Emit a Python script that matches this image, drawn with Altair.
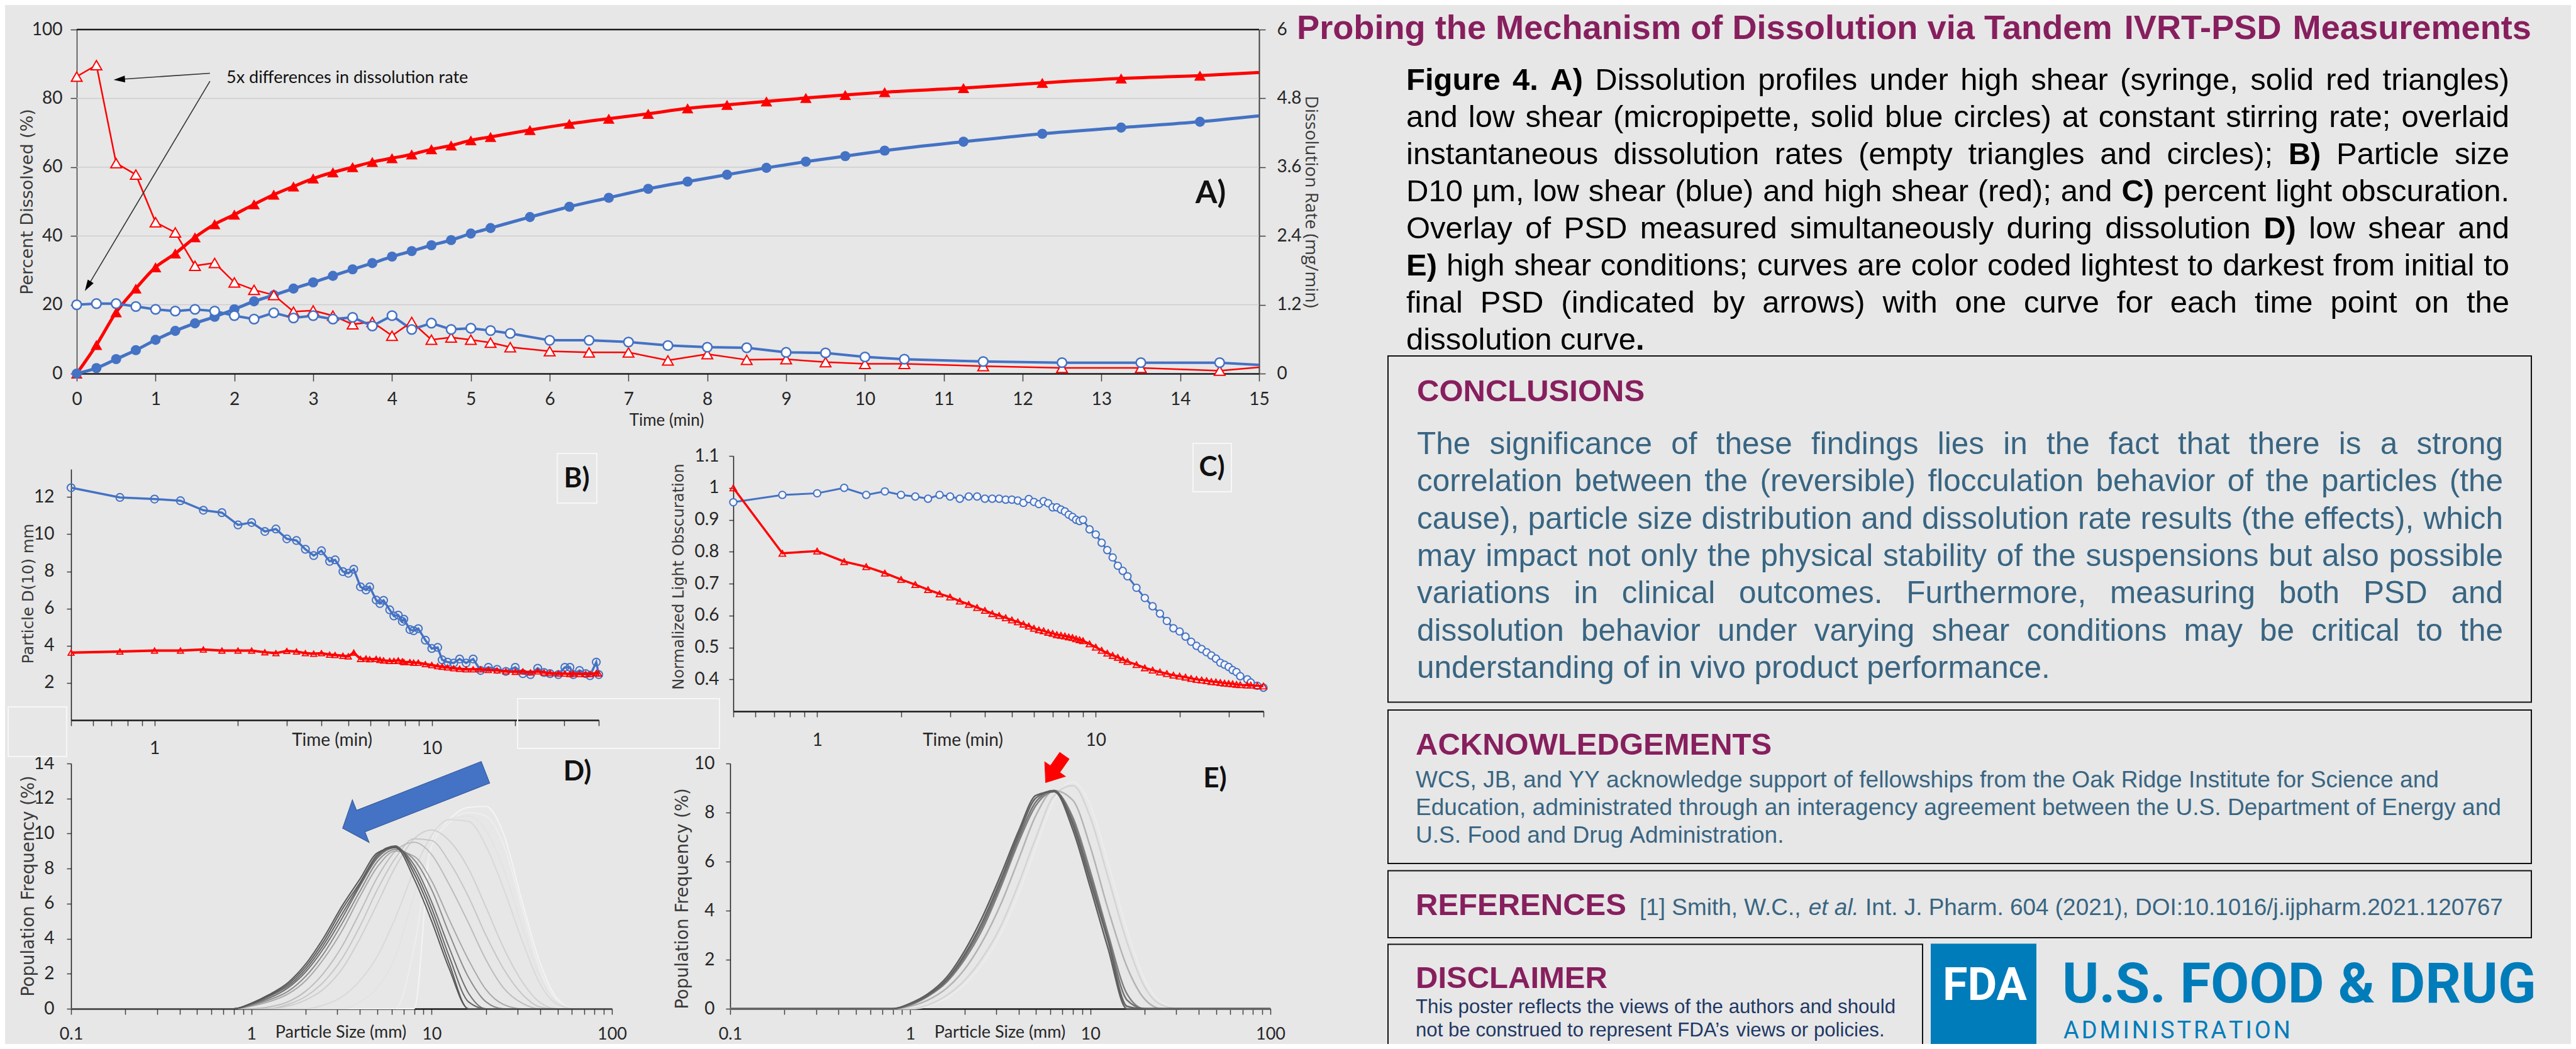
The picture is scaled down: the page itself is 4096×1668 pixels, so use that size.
import altair as alt
import pandas as pd

W, H = 4080, 1652


def P(v):
    return v - 8


# ------------------------------------------------------------------ data
# Panel A: cumulative % dissolved (filled markers) and dissolution rate (hollow)
t_cum = [0, 0.25, 0.5, 0.75, 1, 1.25, 1.5, 1.75, 2, 2.25, 2.5, 2.75, 3, 3.25, 3.5, 3.75,
         4, 4.25, 4.5, 4.75, 5, 5.25, 5.75, 6.25, 6.75, 7.25, 7.75, 8.25, 8.75, 9.25,
         9.75, 10.25, 11.25, 12.25, 13.25, 14.25, 15]
pct_high = [0, 8.3, 17.8, 24.7, 30.9, 34.9, 39.6, 43.4, 46.2, 49.2, 52.0, 54.4, 56.7, 58.5,
            60.0, 61.5, 62.6, 63.7, 65.2, 66.3, 67.8, 68.8, 70.8, 72.6, 74.1, 75.5, 77.1,
            78.1, 79.1, 80.1, 81.0, 81.8, 83.0, 84.5, 85.8, 86.6, 87.5]
pct_low = [0, 1.6, 4.2, 6.8, 9.8, 12.4, 14.6, 16.5, 18.7, 21.0, 22.8, 24.7, 26.5, 28.4,
           30.3, 32.1, 34.0, 35.6, 37.3, 38.8, 40.7, 42.3, 45.5, 48.5, 51.1, 53.7, 55.8,
           57.8, 59.8, 61.6, 63.2, 64.8, 67.4, 69.7, 71.5, 73.2, 74.9]
t_rate = [0, 0.25, 0.5, 0.75, 1, 1.25, 1.5, 1.75, 2, 2.25, 2.5, 2.75, 3, 3.25, 3.5, 3.75,
          4, 4.25, 4.5, 4.75, 5, 5.25, 5.5, 6, 6.5, 7, 7.5, 8, 8.5, 9, 9.5, 10, 10.5,
          11.5, 12.5, 13.5, 14.5, 15]
rate_high = [5.18, 5.38, 3.67, 3.47, 2.64, 2.46, 1.88, 1.93, 1.59, 1.46, 1.37, 1.08, 1.10,
             1.01, 0.86, 0.90, 0.66, 0.90, 0.59, 0.63, 0.59, 0.54, 0.46, 0.39, 0.37, 0.37,
             0.23, 0.34, 0.24, 0.25, 0.20, 0.17, 0.17, 0.13, 0.10, 0.10, 0.05, 0.11]
rate_low = [1.20, 1.22, 1.22, 1.17, 1.12, 1.09, 1.12, 1.09, 1.01, 0.95, 1.06, 0.97, 1.01,
            0.95, 0.98, 0.83, 1.01, 0.77, 0.88, 0.77, 0.79, 0.75, 0.70, 0.58, 0.58, 0.55,
            0.49, 0.46, 0.45, 0.37, 0.36, 0.29, 0.25, 0.21, 0.19, 0.19, 0.19, 0.15]
grid_pct = [20, 40, 60, 80]
ticks_A_x = list(range(0, 16))
ticks_A_y = [0, 20, 40, 60, 80, 100]
ticks_A_r = [0, 1.2, 2.4, 3.6, 4.8, 6]
# annotation "5x differences" (time, % dissolved)
ann_start_t = [1.69, 1.69]
ann_start_y = [87.3, 85.0]
ann_tip_t = [0.54, 0.14]
ann_tip_y = [85.5, 25.4]
ann_angle = [266, 211]

# Panel B: particle D(10)
t_b = [0.5, 0.75, 1.0, 1.24, 1.5, 1.75, 2.0, 2.24, 2.5, 2.74, 3.0, 3.25, 3.5, 3.75, 4.0,
       4.28, 4.48, 4.78, 5.0, 5.23, 5.53, 5.79, 5.97, 6.3, 6.5, 6.7, 7.05, 7.3, 7.57, 7.83,
       7.93, 8.34, 8.6, 8.94, 9.48, 10.0, 10.5, 10.9, 11.4, 12.0, 12.6, 13.3, 14.1, 15.0,
       16.0, 17.2, 18.5, 20.0, 21.3, 22.7, 24.1, 25.4, 26.7, 28.6, 30.2, 31.5, 32.4, 34.1,
       35.9, 37.2, 39.2, 40.0]
d10_low = [12.5, 11.98, 11.89, 11.8, 11.29, 11.16, 10.5, 10.63, 10.15, 10.28, 9.75, 9.66,
           9.19, 8.85, 9.11, 8.54, 8.62, 7.99, 7.9, 8.12, 7.17, 7.0, 7.17, 6.46, 6.27, 6.44,
           5.93, 5.6, 5.65, 5.31, 5.43, 4.87, 4.81, 4.92, 4.3, 3.85, 3.91, 3.24, 3.12, 3.07,
           3.29, 3.07, 3.29, 2.67, 2.84, 2.73, 2.62, 2.84, 2.5, 2.45, 2.79, 2.56, 2.5, 2.45,
           2.84, 2.84, 2.45, 2.67, 2.5, 2.39, 3.12, 2.45]
d10_high = [3.63, 3.69, 3.74, 3.74, 3.8, 3.74, 3.74, 3.74, 3.65, 3.6, 3.72, 3.69, 3.6, 3.57,
            3.6, 3.52, 3.5, 3.46, 3.43, 3.63, 3.29, 3.31, 3.27, 3.29, 3.24, 3.21, 3.18, 3.18,
            3.21, 3.16, 3.12, 3.12, 3.09, 3.09, 3.01, 2.96, 2.9, 2.87, 2.83, 2.79, 2.76, 2.73,
            2.73, 2.73, 2.7, 2.67, 2.62, 2.6, 2.62, 2.56, 2.62, 2.56, 2.53, 2.5, 2.5, 2.48,
            2.5, 2.48, 2.48, 2.48, 2.53, 2.5]
ticks_B_y = [2, 4, 6, 8, 10, 12]
ticks_time = [0.5, 0.6, 0.7, 0.8, 0.9, 1, 2, 3, 4, 5, 6, 7, 8, 9, 10, 20, 30, 40]

# Panel C: normalized light obscuration
t_c = [0.5, 0.75, 1.0, 1.25, 1.5, 1.75, 2.0, 2.25, 2.5, 2.75, 3.0, 3.25, 3.5, 3.75, 4.0,
       4.25, 4.5, 4.75, 5.0, 5.25, 5.5, 5.75, 6.0, 6.25, 6.5, 6.75, 7.0, 7.25, 7.5, 7.75,
       8.0, 8.25, 8.5, 8.75, 9.0, 9.5, 10, 10.5, 11, 11.5, 12, 12.5, 13, 14, 15, 16, 17,
       18, 19, 20, 21, 22, 23, 24, 25, 26, 27, 28, 29, 30, 31, 32, 33, 35, 36, 38, 40]
obs_low = [0.955, 0.978, 0.983, 1.0, 0.978, 0.989, 0.978, 0.973, 0.966, 0.978, 0.973, 0.966,
           0.973, 0.973, 0.966, 0.966, 0.966, 0.963, 0.963, 0.96, 0.953, 0.965, 0.956, 0.949,
           0.958, 0.952, 0.939, 0.939, 0.932, 0.926, 0.916, 0.909, 0.9, 0.896, 0.9,
           0.87, 0.854, 0.828, 0.805, 0.782, 0.756, 0.74, 0.723,
           0.687, 0.655, 0.629, 0.606, 0.583, 0.56, 0.55, 0.534, 0.518, 0.505, 0.495, 0.485,
           0.475, 0.465, 0.452, 0.446, 0.439, 0.429, 0.423, 0.41,
           0.4, 0.39, 0.38, 0.374]
obs_high = [1.0, 0.795, 0.802, 0.769, 0.753, 0.733, 0.713, 0.697, 0.681, 0.668, 0.658, 0.645,
            0.635, 0.625, 0.616, 0.606, 0.6, 0.593, 0.586, 0.58, 0.573, 0.567, 0.56, 0.555,
            0.552, 0.547, 0.544, 0.54, 0.538, 0.536, 0.533, 0.531, 0.527, 0.524, 0.521,
            0.511, 0.501, 0.491, 0.482, 0.475, 0.469, 0.462, 0.456,
            0.446, 0.436, 0.429, 0.423, 0.418, 0.413, 0.41, 0.407, 0.403, 0.4, 0.398, 0.396,
            0.393, 0.392, 0.39, 0.388, 0.387, 0.386, 0.384, 0.383,
            0.382, 0.382, 0.38, 0.379]
ticks_C_y = [0.4, 0.5, 0.6, 0.7, 0.8, 0.9, 1, 1.1]

# Panels D / E: PSD overlays, initial (lightest) -> final (darkest)
psd_bins = [0.1, 0.8, 1.0, 1.25, 1.6, 2.0, 2.5, 3.2, 4.0, 5.0, 6.3, 8.0, 10, 12.5, 16, 20,
            25, 32, 40, 50, 63, 80, 100]
psd_low_names = ["L01", "L02", "L03", "L04", "L05", "L06", "L07", "L08", "L09", "L10",
                 "L11", "L12", "L13"]
psd_low_vals = [
    [0, 0, 0, 0, 0, 0, 0, 0, 0, 0, 0, 0, 9.6, 10.8, 11.5, 11.55, 10.0, 6.0, 2.6, 0.55, 0, 0, 0],
    [0, 0, 0, 0, 0, 0, 0, 0, 0, 0, 0, 3.5, 9.3, 10.6, 11.2, 11.0, 9.4, 5.6, 2.2, 0.45, 0, 0, 0],
    [0, 0, 0, 0, 0, 0, 0, 0, 0.4, 1.2, 3.0, 6.5, 9.5, 10.8, 11.0, 10.2, 8.0, 4.6, 1.8, 0.35, 0, 0, 0],
    [0, 0, 0, 0, 0, 0, 0.2, 0.7, 1.6, 3.0, 5.2, 7.9, 9.9, 10.8, 10.7, 9.3, 6.9, 3.8, 1.4, 0.25, 0, 0, 0],
    [0, 0, 0, 0, 0.15, 0.5, 1.1, 2.3, 4.0, 6.0, 8.1, 9.7, 10.2, 9.6, 8.0, 5.8, 3.5, 1.5, 0.35, 0, 0, 0, 0],
    [0, 0, 0, 0, 0.25, 0.7, 1.5, 2.9, 4.7, 6.8, 8.6, 9.7, 9.6, 8.4, 6.4, 4.2, 2.3, 0.8, 0.1, 0, 0, 0, 0],
    [0, 0, 0, 0.1, 0.4, 1.0, 2.0, 3.6, 5.5, 7.5, 9.0, 9.5, 8.8, 7.1, 4.9, 2.8, 1.2, 0.3, 0, 0, 0, 0, 0],
    [0, 0, 0.15, 0.4, 0.85, 1.6, 2.8, 4.5, 6.4, 8.1, 9.0, 8.7, 7.3, 5.1, 2.8, 1.1, 0.25, 0, 0, 0, 0, 0, 0],
    [0, 0, 0.2, 0.5, 1.0, 1.85, 3.1, 4.9, 6.7, 8.4, 9.1, 8.5, 6.8, 4.3, 1.8, 0.4, 0, 0, 0, 0, 0, 0, 0],
    [0, 0, 0.25, 0.6, 1.2, 2.1, 3.4, 5.2, 7.0, 8.6, 9.2, 8.2, 6.1, 3.5, 0.9, 0, 0, 0, 0, 0, 0, 0, 0],
    [0, 0, 0.28, 0.7, 1.3, 2.25, 3.6, 5.45, 7.1, 8.7, 9.25, 7.95, 5.75, 3.0, 0.4, 0, 0, 0, 0, 0, 0, 0, 0],
    [0, 0, 0.3, 0.75, 1.4, 2.4, 3.8, 5.7, 7.2, 8.8, 9.3, 7.7, 5.4, 2.6, 0, 0, 0, 0, 0, 0, 0, 0, 0],
    [0, 0, 0.32, 0.8, 1.5, 2.55, 4.0, 5.9, 7.4, 8.9, 9.2, 7.4, 5.0, 2.3, 0, 0, 0, 0, 0, 0, 0, 0, 0],
]
psd_high_names = ["H01", "H02", "H03", "H04", "H05", "H06", "H07"]
psd_high_vals = [
    [0, 0, 0, 0.1, 0.45, 1.0, 1.8, 3.1, 4.7, 6.6, 8.5, 9.25, 8.3, 6.0, 3.2, 1.2, 0.25, 0, 0, 0, 0, 0, 0],
    [0, 0, 0, 0.15, 0.55, 1.15, 2.05, 3.4, 5.1, 7.0, 8.7, 9.1, 7.8, 5.4, 2.7, 0.9, 0.15, 0, 0, 0, 0, 0, 0],
    [0, 0, 0.1, 0.35, 0.85, 1.6, 2.7, 4.3, 6.1, 7.9, 8.9, 8.5, 6.6, 4.1, 1.7, 0.4, 0, 0, 0, 0, 0, 0, 0],
    [0, 0, 0.15, 0.5, 1.1, 2.0, 3.2, 5.0, 6.8, 8.3, 8.85, 7.8, 5.6, 3.1, 0.6, 0, 0, 0, 0, 0, 0, 0, 0],
    [0, 0, 0.18, 0.52, 1.15, 2.1, 3.35, 5.15, 6.95, 8.45, 8.9, 7.65, 5.4, 2.95, 0.35, 0, 0, 0, 0, 0, 0, 0, 0],
    [0, 0, 0.2, 0.55, 1.2, 2.2, 3.5, 5.3, 7.1, 8.6, 8.9, 7.5, 5.2, 2.8, 0.1, 0, 0, 0, 0, 0, 0, 0, 0],
    [0, 0, 0.22, 0.6, 1.3, 2.35, 3.7, 5.5, 7.25, 8.7, 8.85, 7.3, 4.95, 2.5, 0, 0, 0, 0, 0, 0, 0, 0, 0],
]
ticks_size = [0.1, 0.2, 0.3, 0.4, 0.5, 0.6, 0.7, 0.8, 0.9, 1, 2, 3, 4, 5, 6, 7, 8, 9, 10,
              20, 30, 40, 50, 60, 70, 80, 90, 100]
ticks_D_y = [0, 2, 4, 6, 8, 10, 12, 14]
ticks_E_y = [0, 2, 4, 6, 8, 10]
# direction arrows (center in data units)
arrowD_size, arrowD_freq = [7.99], [11.9]
arrowE_size, arrowE_freq = [6.37], [9.77]

# text
title_txt = "Probing the Mechanism of Dissolution via Tandem IVRT-PSD Measurements"
caption = [
    "**Figure 4. A)** Dissolution profiles under high shear (syringe, solid red triangles)",
    "and low shear (micropipette, solid blue circles) at constant stirring rate; overlaid",
    "instantaneous dissolution rates (empty triangles and circles); **B)** Particle size",
    "D10 µm, low shear (blue) and high shear (red); and **C)** percent light obscuration.",
    "Overlay of PSD measured simultaneously during dissolution **D)** low shear and",
    "**E)** high shear conditions; curves are color coded lightest to darkest from initial to",
    "final PSD (indicated by arrows) with one curve for each time point on the",
    "dissolution curve**.**",
]
conclusions = [
    "The significance of these findings lies in the fact that there is a strong",
    "correlation between the (reversible) flocculation behavior of the particles (the",
    "cause), particle size distribution and dissolution rate results (the effects), which",
    "may impact not only the physical stability of the suspensions but also possible",
    "variations in clinical outcomes. Furthermore, measuring both PSD and",
    "dissolution behavior under varying shear conditions may be critical to the",
    "understanding of in vivo product performance.",
]
acknowledgements = [
    "WCS, JB, and YY acknowledge support of fellowships from the Oak Ridge Institute for Science and",
    "Education, administrated through an interagency agreement between the U.S. Department of Energy and",
    "U.S. Food and Drug Administration.",
]
reference = "[1] Smith, W.C., _et al._ Int. J. Pharm. 604 (2021), DOI:10.1016/j.ijpharm.2021.120767"
disclaimer = [
    "This poster reflects the views of the authors and should",
    "not be construed to represent FDA\u2019s views or policies.",
]

# ------------------------------------------------------------------ styles
RED = "#ff0000"
BLUE = "#4472c4"
PURPLE = "#871f5e"
STEEL = "#386582"
NAVY = "#1f3864"
FDA_BLUE = "#007cba"
INK = "#262626"
BODY = "Liberation Sans, Arial, Helvetica, sans-serif"
TICKF = "Lato"
WIDEF = "DejaVu Sans"

# Arial / Liberation Sans advance widths (1/1000 em)
AR, AB = {}, {}


def setw(tbl, chars, w):
    for c in chars:
        tbl[c] = w


setw(AR, " !,./:;I[]ft", 278)
setw(AR, "ijl", 222)
setw(AR, "r()-", 333)
setw(AR, "ckvsxyzJ", 500)
setw(AR, "abdeghnopqu0123456789L_\u00b5", 556)
setw(AR, "FTZ", 611)
setw(AR, "ABEKPSVXY&", 667)
setw(AR, "CDHNRUw", 722)
setw(AR, "GOQ", 778)
setw(AR, "mM", 833)
setw(AR, "W", 944)
setw(AR, "%", 889)
setw(AR, "'", 191)
setw(AR, "\u2019", 222)
setw(AB, " .,ijlI/", 278)
setw(AB, ":;()-ft[]", 333)
setw(AB, "r", 389)
setw(AB, "z", 500)
setw(AB, "ckvsxyaeJ0123456789", 556)
setw(AB, "bdghnopquFTZL", 611)
setw(AB, "ABCDHKNRU&", 722)
setw(AB, "EPSVXY", 667)
setw(AB, "GOQw", 778)
setw(AB, "M", 833)
setw(AB, "m", 889)
setw(AB, "W", 944)


def em(text, bold=False):
    tbl = AB if bold else AR
    return sum(tbl.get(c, 556) for c in text) / 1000.0


def parse(line):
    chars = []
    bold = ital = False
    i = 0
    while i < len(line):
        if line.startswith("**", i):
            bold = not bold
            i += 2
            continue
        if line[i] == "_":
            ital = not ital
            i += 1
            continue
        chars.append((line[i], bold, ital))
        i += 1
    words, cur = [], []
    for c, b, it in chars:
        if c == " ":
            if cur:
                words.append(cur)
                cur = []
        else:
            cur.append((c, b, it))
    if cur:
        words.append(cur)
    out = []
    for w in words:
        runs = []
        for c, b, it in w:
            if runs and runs[-1][1] == b and runs[-1][2] == it:
                runs[-1][0] += c
            else:
                runs.append([c, b, it])
        out.append(runs)
    return out


def line_em(line):
    words = parse(line)
    return sum(em(r[0], r[1]) for w in words for r in w) + 0.278 * (len(words) - 1)


text_rows = []


def para(lines, x0, x1, base0, dy, size, color, justify=True):
    for k, line in enumerate(lines):
        words = parse(line)
        wid = [sum(em(r[0], r[1]) * size for r in w) for w in words]
        last = k == len(lines) - 1
        if justify and not last and len(words) > 1:
            gap = (x1 - x0 - sum(wid)) / (len(words) - 1)
        else:
            gap = 0.278 * size
        x = x0
        y = base0 + k * dy
        for w, ww in zip(words, wid):
            xx = x
            for t, b, it in w:
                text_rows.append({"x": P(xx), "y": P(y), "text": t, "b": bool(b),
                                  "i": bool(it), "size": size, "color": color})
                xx += em(t, b) * size
            x += ww + gap


def fit(lines, width, target):
    return min(target, 0.997 * min(width / line_em(l) for l in lines[:-1]))


HEAD = 49
title_size = 1963 / em(title_txt, True)
para(["**" + title_txt + "**"], 2062, 4025, 61.5, 0, title_size, PURPLE, justify=False)
cap_size = fit(caption, 3990 - 2236, 49)
para(caption, 2236, 3990, 143, 59.0, cap_size, "#000000")
para(["**CONCLUSIONS**"], 2253, 3980, 638, 0, HEAD, PURPLE, justify=False)
con_size = fit(conclusions, 3980 - 2253, 50)
para(conclusions, 2253, 3980, 722, 59.3, con_size, STEEL)
para(["**ACKNOWLEDGEMENTS**"], 2251, 3980, 1200, 0, HEAD, PURPLE, justify=False)
ack_size = (3977 - 2251) / line_em(acknowledgements[1])
para(acknowledgements, 2251, 3980, 1252, 44, ack_size, STEEL, justify=False)
para(["**REFERENCES**"], 2251, 3980, 1455, 0, HEAD, PURPLE, justify=False)
ref_size = (3980 - 2607) / line_em(reference)
para([reference], 2607, 3980, 1455, 0, ref_size, STEEL, justify=False)
para(["**DISCLAIMER**"], 2251, 3980, 1570.5, 0, HEAD, PURPLE, justify=False)
dis_size = (3014 - 2251) / line_em(disclaimer[0])
para(disclaimer, 2251, 3014, 1611, 37, dis_size, NAVY, justify=False)

# ------------------------------------------------------------------ scales
def lin(dom, rng):
    return alt.Scale(domain=dom, range=rng, nice=False, zero=False)


def logs(dom, rng):
    return alt.Scale(type="log", domain=dom, range=rng, nice=False)


xA = lin([0, 15], [P(122), P(2002)])
yA = lin([0, 100], [P(594), P(47)])
rA = lin([0, 6], [P(594), P(47)])
xB = logs([0.5, 40], [P(113), P(952)])
yB = lin([0, 13.5], [P(1145), P(746)])
xC = logs([0.5, 40], [P(1166), P(2009)])
yC = lin([0.3, 1.1], [P(1131), P(725)])
xD = logs([0.1, 100], [P(113), P(973)])
yD = lin([0, 14], [P(1604), P(1214)])
xE = logs([0.1, 100], [P(1161), P(2020)])
yE = lin([0, 10], [P(1604), P(1214)])

EXPR_N = "toString(datum.value)"
EXPR_T = "(datum.value == 1 || datum.value == 10) ? toString(datum.value) : ''"
EXPR_S = ("(datum.value == 0.1 || datum.value == 1 || datum.value == 10 || datum.value == 100)"
          " ? toString(datum.value) : ''")


def axis(orient, pos, values, tick=9, pad=12, dcolor="#1a1a1a", dwidth=2.5, expr=EXPR_N, size=28):
    if orient == "bottom":
        off = P(pos) - H
    elif orient == "left":
        off = -P(pos)
    else:
        off = P(pos) - W
    kw = dict(orient=orient, offset=off, values=values, title=None, grid=False,
              domainColor=dcolor, domainWidth=dwidth, tickColor="#404040", tickWidth=1.5,
              tickSize=tick, labelFont=TICKF, labelFontSize=size, labelColor=INK,
              labelPadding=pad, labelFlush=False, labelOverlap=False, labelExpr=expr)
    if orient == "bottom":
        kw["labelBaseline"] = "middle"
    return alt.Axis(**kw)


layers = []


def label(text, x, y, size, font=TICKF, weight="normal", color=INK, angle=0,
          align="center", baseline="middle"):
    layers.append(alt.Chart(pd.DataFrame({"t": [text]})).mark_text(
        font=font, fontSize=size, fontWeight=weight, color=color, angle=angle,
        align=align, baseline=baseline).encode(
        text="t:N", x=alt.value(P(x)), y=alt.value(P(y))))


def box(x0, y0, x1, y1, stroke="#111111", sw=2, fill="transparent"):
    layers.append(alt.Chart(pd.DataFrame({"a": [0]})).mark_rect(
        fill=fill, stroke=stroke, strokeWidth=sw).encode(
        x=alt.value(P(x0)), x2=alt.value(P(x1)), y=alt.value(P(y0)), y2=alt.value(P(y1))))


# ------------------------------------------------------------------ panel A
dfA = pd.DataFrame({"t": t_cum, "hi": pct_high, "lo": pct_low})
dfR = pd.DataFrame({"t": t_rate, "hi": rate_high, "lo": rate_low})
layers.append(alt.Chart(pd.DataFrame({"v": grid_pct})).mark_rule(color="#cdcdcd", strokeWidth=1.5).encode(
    y=alt.Y("v:Q", scale=yA, axis=None), x=alt.value(P(122)), x2=alt.value(P(2002))))
layers.append(alt.Chart(pd.DataFrame({"v": [100]})).mark_rule(color="#1a1a1a", strokeWidth=2.5).encode(
    y=alt.Y("v:Q", scale=yA, axis=None), x=alt.value(P(122)), x2=alt.value(P(2002))))
layers.append(alt.Chart(dfA).mark_line(color=RED, strokeWidth=5, interpolate="monotone").encode(
    x=alt.X("t:Q", scale=xA, axis=axis("bottom", 594, ticks_A_x, tick=12, pad=29)),
    y=alt.Y("hi:Q", scale=yA, axis=axis("left", 122, ticks_A_y, tick=10, pad=13,
                                         dcolor="#404040", dwidth=1.5))))
layers.append(alt.Chart(dfA).mark_line(color=BLUE, strokeWidth=5, interpolate="monotone").encode(
    x=alt.X("t:Q", scale=xA, axis=None), y=alt.Y("lo:Q", scale=yA, axis=None)))
layers.append(alt.Chart(dfR).mark_line(color=RED, strokeWidth=2.5).encode(
    x=alt.X("t:Q", scale=xA, axis=None),
    y=alt.Y("hi:Q", scale=rA, axis=axis("right", 2002, ticks_A_r, tick=10, pad=18,
                                         dcolor="#404040", dwidth=2))))
layers.append(alt.Chart(dfR).mark_line(color=BLUE, strokeWidth=4).encode(
    x=alt.X("t:Q", scale=xA, axis=None), y=alt.Y("lo:Q", scale=rA, axis=None)))
layers.append(alt.Chart(dfA).transform_filter("datum.t < 15").mark_point(
    shape="triangle-up", filled=True, color=RED, size=340, opacity=1).encode(
    x=alt.X("t:Q", scale=xA, axis=None), y=alt.Y("hi:Q", scale=yA, axis=None)))
layers.append(alt.Chart(dfA).transform_filter("datum.t < 15").mark_point(
    shape="circle", filled=True, color=BLUE, size=260, opacity=1).encode(
    x=alt.X("t:Q", scale=xA, axis=None), y=alt.Y("lo:Q", scale=yA, axis=None)))
layers.append(alt.Chart(dfR).transform_filter("datum.t < 15").mark_point(
    shape="triangle-up", filled=True, fill="white", stroke=RED, strokeWidth=2, size=290,
    opacity=1).encode(x=alt.X("t:Q", scale=xA, axis=None), y=alt.Y("hi:Q", scale=rA, axis=None)))
layers.append(alt.Chart(dfR).transform_filter("datum.t < 15").mark_point(
    shape="circle", filled=True, fill="white", stroke=BLUE, strokeWidth=2.5, size=220,
    opacity=1).encode(x=alt.X("t:Q", scale=xA, axis=None), y=alt.Y("lo:Q", scale=rA, axis=None)))
dfAnn = pd.DataFrame({"t": ann_start_t, "y": ann_start_y, "t2": ann_tip_t, "y2": ann_tip_y,
                      "a": ann_angle})
layers.append(alt.Chart(dfAnn).mark_rule(color="#333333", strokeWidth=1.6).encode(
    x=alt.X("t:Q", scale=xA, axis=None), y=alt.Y("y:Q", scale=yA, axis=None),
    x2="t2:Q", y2="y2:Q"))
layers.append(alt.Chart(dfAnn).mark_point(
    shape="M 0 -1 L 0.6 1 L -0.6 1 Z", filled=True, color="#000000", size=324, opacity=1).encode(
    x=alt.X("t2:Q", scale=xA, axis=None), y=alt.Y("y2:Q", scale=yA, axis=None),
    angle=alt.Angle("a:Q", scale=None)))
label("5x differences in dissolution rate", 360, 124, 27, align="left", color="#111111")
label("A)", 1925, 308, 50, weight="bold", color="#111111")
label("Time (min)", 1060, 669, 26)
label("Percent Dissolved (%)", 44, 321, 27, font=WIDEF, angle=270, color="#3a3a3a")
label("Dissolution Rate (mg/min)", 2084, 321, 28, font="Open Sans", angle=90, color="#3a3a3a")

# ------------------------------------------------------------------ panel B
dfB = pd.DataFrame({"t": t_b, "lo": d10_low, "hi": d10_high})
box(886, 721, 949, 800, stroke="#f7f7f7", sw=2)
box(13, 1124, 106, 1203, stroke="#f7f7f7", sw=2)
box(823, 1111, 1144, 1190, stroke="#f7f7f7", sw=2)
box(1897, 705, 1958, 782, stroke="#f7f7f7", sw=2)
layers.append(alt.Chart(dfB).mark_line(color=BLUE, strokeWidth=3.5).encode(
    x=alt.X("t:Q", scale=xB, axis=axis("bottom", 1145, ticks_time, pad=36, expr=EXPR_T)),
    y=alt.Y("lo:Q", scale=yB, axis=axis("left", 113, ticks_B_y, tick=7, pad=20, dwidth=1.5))))
layers.append(alt.Chart(dfB).mark_point(shape="circle", filled=False, color=BLUE,
                                        strokeWidth=2, size=150, opacity=1).encode(
    x=alt.X("t:Q", scale=xB, axis=None), y=alt.Y("lo:Q", scale=yB, axis=None)))
layers.append(alt.Chart(dfB).mark_line(color=RED, strokeWidth=4).encode(
    x=alt.X("t:Q", scale=xB, axis=None), y=alt.Y("hi:Q", scale=yB, axis=None)))
layers.append(alt.Chart(dfB).mark_point(shape="triangle-up", filled=False, color=RED,
                                        strokeWidth=1.8, size=90, opacity=1).encode(
    x=alt.X("t:Q", scale=xB, axis=None), y=alt.Y("hi:Q", scale=yB, axis=None)))
label("B)", 917, 762, 44, weight="bold", color="#111111")
label("Time (min)", 528, 1178, 28)
label("Particle D(10) mm", 46, 944, 24.5, font=WIDEF, angle=270, color="#3a3a3a")

# ------------------------------------------------------------------ panel C
dfC = pd.DataFrame({"t": t_c, "lo": obs_low, "hi": obs_high})
layers.append(alt.Chart(dfC).mark_line(color=BLUE, strokeWidth=3).encode(
    x=alt.X("t:Q", scale=xC, axis=axis("bottom", 1131, ticks_time, pad=37, expr=EXPR_T)),
    y=alt.Y("lo:Q", scale=yC, axis=axis("left", 1166, ticks_C_y, tick=7, pad=16, dwidth=1.5))))
layers.append(alt.Chart(dfC).mark_point(shape="circle", filled=True, fill="#f4f6fb", stroke=BLUE,
                                        strokeWidth=2, size=130, opacity=1).encode(
    x=alt.X("t:Q", scale=xC, axis=None), y=alt.Y("lo:Q", scale=yC, axis=None)))
layers.append(alt.Chart(dfC).mark_line(color=RED, strokeWidth=3.5).encode(
    x=alt.X("t:Q", scale=xC, axis=None), y=alt.Y("hi:Q", scale=yC, axis=None)))
layers.append(alt.Chart(dfC).mark_point(shape="triangle-up", filled=False, color=RED,
                                        strokeWidth=1.8, size=110, opacity=1).encode(
    x=alt.X("t:Q", scale=xC, axis=None), y=alt.Y("hi:Q", scale=yC, axis=None)))
label("C)", 1927, 744, 44, weight="bold", color="#111111")
label("Time (min)", 1531, 1178, 28)
label("Normalized Light Obscuration", 1080, 917, 24.2, font=WIDEF, angle=270, color="#3a3a3a")

# ------------------------------------------------------------------ panels D, E
def psd_frame(names, vals):
    rows = []
    for n, v in zip(names, vals):
        for b, f in zip(psd_bins, v):
            rows.append({"curve": n, "size": b, "freq": f})
    return pd.DataFrame(rows)


colD = ["#f4f4f4", "#eeeeee", "#e3e3e3", "#d9d9d9", "#cfcfcf", "#c6c6c6", "#bcbcbc",
        "#a8a8a8", "#8c8c8c", "#707070", "#666666", "#5c5c5c", "#575757"]
wD = [2, 2, 2, 2, 2, 2, 2, 2.5, 3, 3.5, 3.5, 4, 4]
colE = ["#ececec", "#d4d4d4", "#b3b3b3", "#808080", "#727272", "#626262", "#5e5e5e"]
wE = [2.5, 2.5, 3, 3.5, 3.5, 4, 4]
layers.append(alt.Chart(psd_frame(psd_low_names, psd_low_vals)).mark_line(interpolate="monotone").encode(
    x=alt.X("size:Q", scale=xD, axis=axis("bottom", 1604, ticks_size, pad=31, expr=EXPR_S, size=27)),
    y=alt.Y("freq:Q", scale=yD, axis=axis("left", 113, ticks_D_y, tick=7, pad=20, dwidth=1.5)),
    color=alt.Color("curve:N", scale=alt.Scale(domain=psd_low_names, range=colD), legend=None),
    strokeWidth=alt.StrokeWidth("curve:N", scale=alt.Scale(domain=psd_low_names, range=wD), legend=None)))
layers.append(alt.Chart(psd_frame(psd_high_names, psd_high_vals)).mark_line(interpolate="monotone").encode(
    x=alt.X("size:Q", scale=xE, axis=axis("bottom", 1604, ticks_size, pad=31, expr=EXPR_S, size=27)),
    y=alt.Y("freq:Q", scale=yE, axis=axis("left", 1161, ticks_E_y, tick=7, pad=18, dwidth=1.5)),
    color=alt.Color("curve:N", scale=alt.Scale(domain=psd_high_names, range=colE), legend=None),
    strokeWidth=alt.StrokeWidth("curve:N", scale=alt.Scale(domain=psd_high_names, range=wE), legend=None)))
ARROW_D = "M -1 0 L -0.746 -0.3 L -0.746 -0.151 L 1 -0.151 L 1 0.151 L -0.746 0.151 L -0.746 0.3 Z"
ARROW_E = "M -1 0 L 0 -0.77 L 0 -0.35 L 1 -0.35 L 1 0.35 L 0 0.35 L 0 0.77 Z"
layers.append(alt.Chart(pd.DataFrame({"s": arrowD_size, "f": arrowD_freq})).mark_point(
    shape=ARROW_D, filled=True, fill=BLUE, stroke="#2f5597", strokeWidth=1, size=59536,
    angle=338.6, opacity=1).encode(
    x=alt.X("s:Q", scale=xD, axis=None), y=alt.Y("f:Q", scale=yD, axis=None)))
layers.append(alt.Chart(pd.DataFrame({"s": arrowE_size, "f": arrowE_freq})).mark_point(
    shape=ARROW_E, filled=True, fill=RED, stroke=RED, strokeWidth=1, size=2704,
    angle=305, opacity=1).encode(
    x=alt.X("s:Q", scale=xE, axis=None), y=alt.Y("f:Q", scale=yE, axis=None)))
label("D)", 918, 1228, 44, weight="bold", color="#111111")
label("E)", 1932, 1239, 44, weight="bold", color="#111111")
label("Particle Size (mm)", 542, 1642, 27)
label("Particle Size (mm)", 1590, 1642, 27)
label("Population Frequency (%)", 46, 1409, 27.5, font=WIDEF, angle=270, color="#3a3a3a")
label("Population Frequency (%)", 1086, 1429, 27.5, font=WIDEF, angle=270, color="#3a3a3a")

# ------------------------------------------------------------------ right column
box(2207, 566, 4025, 1116.5)
box(2207, 1129, 4025, 1373)
box(2207, 1384.5, 4025, 1491)
box(2207, 1501.6, 3057, 1700)
box(3070, 1500.5, 3238, 1700, stroke=FDA_BLUE, sw=0, fill=FDA_BLUE)
label("FDA", 3156, 1590, 72, font="Roboto", weight="bold", color="#ffffff", baseline="alphabetic")
label("U.S. FOOD & DRUG", 3279, 1594, 89, font="Roboto", weight="bold", color=FDA_BLUE,
      align="left", baseline="alphabetic")
label("\u200a".join("ADMINISTRATION"), 3281, 1651, 38, font="Roboto", color=FDA_BLUE,
      align="left", baseline="alphabetic")

tdf = pd.DataFrame(text_rows)
for (b, it), g in tdf.groupby(["b", "i"]):
    layers.append(alt.Chart(g.reset_index(drop=True)).mark_text(
        font=BODY, fontWeight="bold" if b else "normal", fontStyle="italic" if it else "normal",
        align="left", baseline="alphabetic").encode(
        x=alt.X("x:Q", scale=None), y=alt.Y("y:Q", scale=None), text="text:N",
        size=alt.Size("size:Q", scale=None, legend=None),
        color=alt.Color("color:N", scale=None, legend=None)))

chart = alt.layer(*layers).resolve_scale(
    x="independent", y="independent", color="independent", strokeWidth="independent"
).resolve_axis(x="independent", y="independent").properties(
    width=W, height=H, padding=0, background="#e7e7e7",
    autosize=alt.AutoSizeParams(type="none"),
).configure_view(stroke=None)

chart.save("out.html", embed_options={"renderer": "svg", "actions": False})
